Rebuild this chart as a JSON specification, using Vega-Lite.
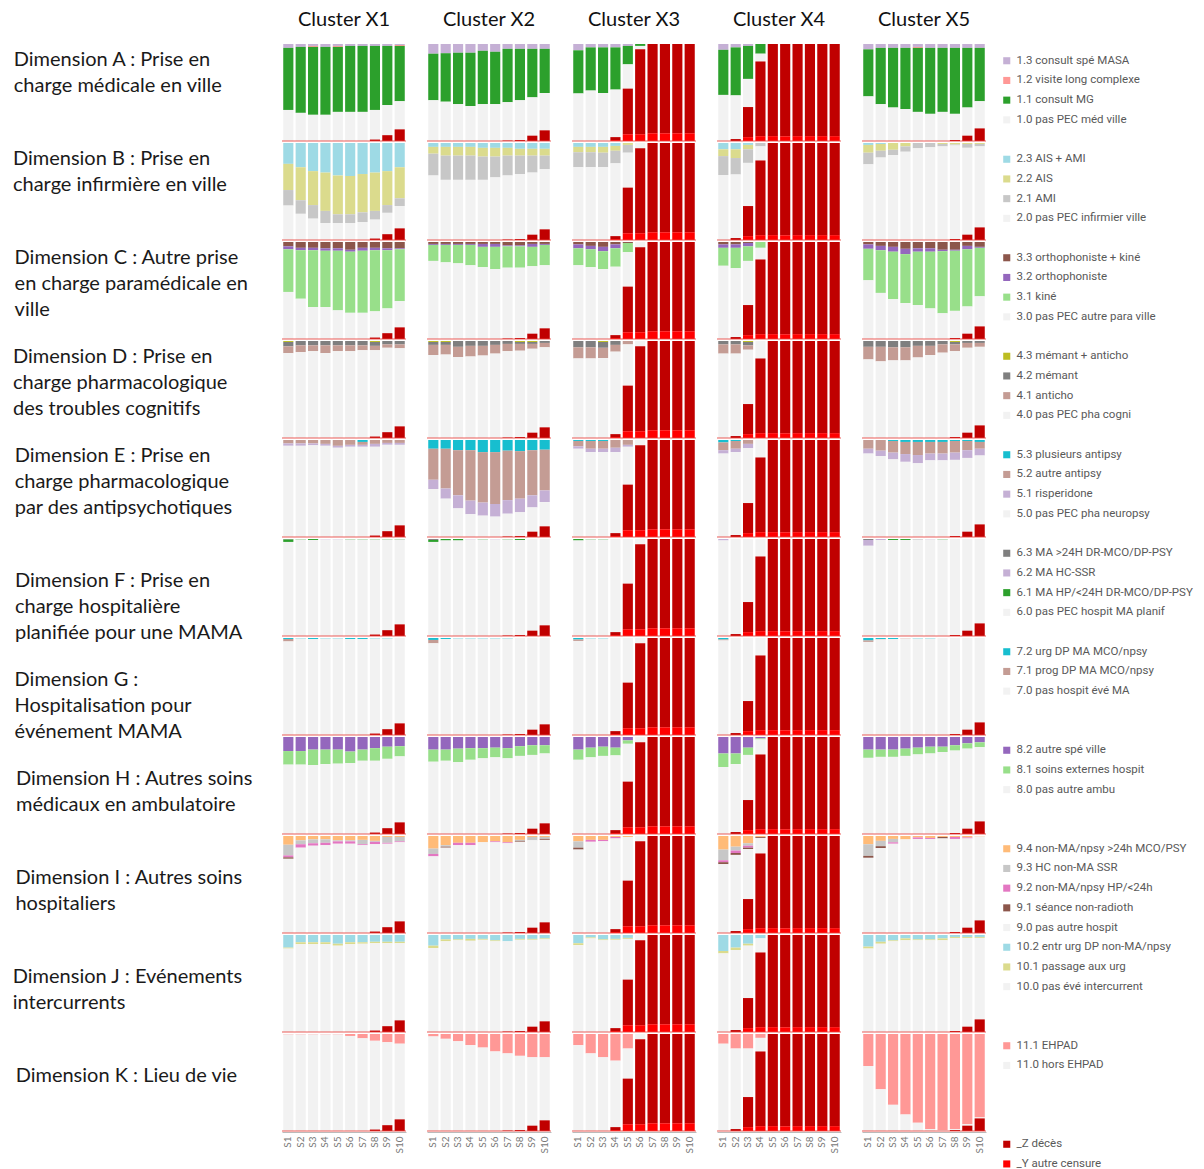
{
"$schema": "https://vega.github.io/schema/vega-lite/v6.json",
"padding": {"left": 12, "top": 10, "right": 4, "bottom": 2},
"background": "white",
"datasets": {
"sv": [
{"k":"1-1","c":"Cluster X1","s":"S1","Z":0,"Y":0},{"k":"1-2","c":"Cluster X1","s":"S2","Z":0,"Y":0},{"k":"1-3","c":"Cluster X1","s":"S3","Z":0,"Y":0},{"k":"1-4","c":"Cluster X1","s":"S4","Z":0,"Y":0},{"k":"1-5","c":"Cluster X1","s":"S5","Z":0,"Y":0},{"k":"1-6","c":"Cluster X1","s":"S6","Z":0,"Y":0},{"k":"1-7","c":"Cluster X1","s":"S7","Z":0,"Y":0},{"k":"1-8","c":"Cluster X1","s":"S8","Z":1.5,"Y":0},{"k":"1-9","c":"Cluster X1","s":"S9","Z":6,"Y":0},{"k":"1-10","c":"Cluster X1","s":"S10","Z":12,"Y":0},
{"k":"2-1","c":"Cluster X2","s":"S1","Z":0,"Y":0},{"k":"2-2","c":"Cluster X2","s":"S2","Z":0,"Y":0},{"k":"2-3","c":"Cluster X2","s":"S3","Z":0,"Y":0},{"k":"2-4","c":"Cluster X2","s":"S4","Z":0,"Y":0},{"k":"2-5","c":"Cluster X2","s":"S5","Z":0,"Y":0},{"k":"2-6","c":"Cluster X2","s":"S6","Z":0,"Y":0},{"k":"2-7","c":"Cluster X2","s":"S7","Z":0.5,"Y":0},{"k":"2-8","c":"Cluster X2","s":"S8","Z":1,"Y":0},{"k":"2-9","c":"Cluster X2","s":"S9","Z":5.5,"Y":0},{"k":"2-10","c":"Cluster X2","s":"S10","Z":11,"Y":0},
{"k":"3-1","c":"Cluster X3","s":"S1","Z":0,"Y":0},{"k":"3-2","c":"Cluster X3","s":"S2","Z":0,"Y":0},{"k":"3-3","c":"Cluster X3","s":"S3","Z":0,"Y":0},{"k":"3-4","c":"Cluster X3","s":"S4","Z":3,"Y":1},{"k":"3-5","c":"Cluster X3","s":"S5","Z":47,"Y":7},{"k":"3-6","c":"Cluster X3","s":"S6","Z":87.5,"Y":7},{"k":"3-7","c":"Cluster X3","s":"S7","Z":92,"Y":8},{"k":"3-8","c":"Cluster X3","s":"S8","Z":92,"Y":8},{"k":"3-9","c":"Cluster X3","s":"S9","Z":92,"Y":8},{"k":"3-10","c":"Cluster X3","s":"S10","Z":92,"Y":8},
{"k":"4-1","c":"Cluster X4","s":"S1","Z":0,"Y":0},{"k":"4-2","c":"Cluster X4","s":"S2","Z":2,"Y":0},{"k":"4-3","c":"Cluster X4","s":"S3","Z":31,"Y":4},{"k":"4-4","c":"Cluster X4","s":"S4","Z":77,"Y":5},{"k":"4-5","c":"Cluster X4","s":"S5","Z":95,"Y":5},{"k":"4-6","c":"Cluster X4","s":"S6","Z":95,"Y":5},{"k":"4-7","c":"Cluster X4","s":"S7","Z":95,"Y":5},{"k":"4-8","c":"Cluster X4","s":"S8","Z":95,"Y":5},{"k":"4-9","c":"Cluster X4","s":"S9","Z":95,"Y":5},{"k":"4-10","c":"Cluster X4","s":"S10","Z":95,"Y":5},
{"k":"5-1","c":"Cluster X5","s":"S1","Z":0,"Y":0},{"k":"5-2","c":"Cluster X5","s":"S2","Z":0,"Y":0},{"k":"5-3","c":"Cluster X5","s":"S3","Z":0,"Y":0},{"k":"5-4","c":"Cluster X5","s":"S4","Z":0,"Y":0},{"k":"5-5","c":"Cluster X5","s":"S5","Z":0,"Y":0},{"k":"5-6","c":"Cluster X5","s":"S6","Z":0,"Y":0},{"k":"5-7","c":"Cluster X5","s":"S7","Z":0,"Y":0},{"k":"5-8","c":"Cluster X5","s":"S8","Z":1,"Y":0},{"k":"5-9","c":"Cluster X5","s":"S9","Z":5.5,"Y":0},{"k":"5-10","c":"Cluster X5","s":"S10","Z":13,"Y":0}
],
"cats": [
{"ck":"Ap3","l":"1.3 consult spé MASA"},{"ck":"Ap2","l":"1.2 visite long complexe"},{"ck":"Ap1","l":"1.1 consult MG"},{"ck":"Ap0","l":"1.0 pas PEC méd ville"},
{"ck":"Bp3","l":"2.3 AIS + AMI"},{"ck":"Bp2","l":"2.2 AIS"},{"ck":"Bp1","l":"2.1 AMI"},{"ck":"Bp0","l":"2.0 pas PEC infirmier ville"},
{"ck":"Cp3","l":"3.3 orthophoniste + kiné"},{"ck":"Cp2","l":"3.2 orthophoniste"},{"ck":"Cp1","l":"3.1 kiné"},{"ck":"Cp0","l":"3.0 pas PEC autre para ville"},
{"ck":"Dp3","l":"4.3 mémant + anticho"},{"ck":"Dp2","l":"4.2 mémant"},{"ck":"Dp1","l":"4.1 anticho"},{"ck":"Dp0","l":"4.0 pas PEC pha cogni"},
{"ck":"Ep3","l":"5.3 plusieurs antipsy"},{"ck":"Ep2","l":"5.2 autre antipsy"},{"ck":"Ep1","l":"5.1 risperidone"},{"ck":"Ep0","l":"5.0 pas PEC pha neuropsy"},
{"ck":"Fp3","l":"6.3 MA >24H DR-MCO/DP-PSY"},{"ck":"Fp2","l":"6.2 MA HC-SSR"},{"ck":"Fp1","l":"6.1 MA HP/<24H DR-MCO/DP-PSY"},{"ck":"Fp0","l":"6.0 pas PEC hospit MA planif"},
{"ck":"Gp2","l":"7.2 urg DP MA MCO/npsy"},{"ck":"Gp1","l":"7.1 prog DP MA MCO/npsy"},{"ck":"Gp0","l":"7.0 pas hospit évé MA"},
{"ck":"Hp2","l":"8.2 autre spé ville"},{"ck":"Hp1","l":"8.1 soins externes hospit"},{"ck":"Hp0","l":"8.0 pas autre ambu"},
{"ck":"Ip4","l":"9.4 non-MA/npsy >24h MCO/PSY"},{"ck":"Ip3","l":"9.3 HC non-MA SSR"},{"ck":"Ip2","l":"9.2 non-MA/npsy HP/<24h"},{"ck":"Ip1","l":"9.1 séance non-radioth"},{"ck":"Ip0","l":"9.0 pas autre hospit"},
{"ck":"Jp2","l":"10.2 entr urg DP non-MA/npsy"},{"ck":"Jp1","l":"10.1 passage aux urg"},{"ck":"Jp0","l":"10.0 pas évé intercurrent"},
{"ck":"Kp1","l":"11.1 EHPAD"},{"ck":"Kp0","l":"11.0 hors EHPAD"},
{"ck":"Z","l":"_Z décès"},{"ck":"Y","l":"_Y autre censure"}
],
"bars": [
{"d":"A","k":"1-1","p3":4,"p1":64,"p0":32},{"d":"A","k":"1-2","p3":3,"p1":68,"p0":29},{"d":"A","k":"1-3","p3":2,"p2":1,"p1":70,"p0":27},{"d":"A","k":"1-4","p3":3,"p1":70,"p0":27},{"d":"A","k":"1-5","p3":2,"p2":1,"p1":67,"p0":30},{"d":"A","k":"1-6","p3":2,"p1":68,"p0":30},{"d":"A","k":"1-7","p3":2,"p1":68,"p0":30},{"d":"A","k":"1-8","p3":2,"p1":66,"p0":30.5},{"d":"A","k":"1-9","p3":2,"p1":61,"p0":31},{"d":"A","k":"1-10","p3":1,"p2":1,"p1":57,"p0":29},
{"d":"A","k":"2-1","p3":10,"p1":48,"p0":42},{"d":"A","k":"2-2","p3":9.5,"p1":50,"p0":40.5},{"d":"A","k":"2-3","p3":9,"p1":53,"p0":38},{"d":"A","k":"2-4","p3":9,"p1":55,"p0":36},{"d":"A","k":"2-5","p3":7,"p1":55,"p0":38},{"d":"A","k":"2-6","p3":8,"p1":54,"p0":38},{"d":"A","k":"2-7","p3":5,"p1":55,"p0":39.5},{"d":"A","k":"2-8","p3":5,"p1":53,"p0":41},{"d":"A","k":"2-9","p3":5,"p1":50,"p0":39.5},{"d":"A","k":"2-10","p3":5,"p1":45.5,"p0":38.5},
{"d":"A","k":"3-1","p3":6.5,"p1":44.5,"p0":49},{"d":"A","k":"3-2","p3":3.5,"p1":44.5,"p0":52},{"d":"A","k":"3-3","p3":3.5,"p1":47,"p0":49.5},{"d":"A","k":"3-4","p3":3.5,"p1":43.5,"p0":49},{"d":"A","k":"3-5","p3":2,"p1":19,"p0":25},{"d":"A","k":"3-6","p1":2,"p0":3.5},{"d":"A","k":"3-7"},{"d":"A","k":"3-8"},{"d":"A","k":"3-9"},{"d":"A","k":"3-10"},
{"d":"A","k":"4-1","p3":6,"p1":46.5,"p0":47.5},{"d":"A","k":"4-2","p3":3.5,"p1":49.5,"p0":45},{"d":"A","k":"4-3","p3":2,"p1":34,"p0":29},{"d":"A","k":"4-4","p1":10,"p0":8},{"d":"A","k":"4-5"},{"d":"A","k":"4-6"},{"d":"A","k":"4-7"},{"d":"A","k":"4-8"},{"d":"A","k":"4-9"},{"d":"A","k":"4-10"},
{"d":"A","k":"5-1","p3":5.5,"p1":48.5,"p0":46},{"d":"A","k":"5-2","p3":4,"p1":58,"p0":38},{"d":"A","k":"5-3","p3":4,"p1":61.5,"p0":34.5},{"d":"A","k":"5-4","p3":4,"p1":63,"p0":33},{"d":"A","k":"5-5","p3":3,"p2":1,"p1":66,"p0":30},{"d":"A","k":"5-6","p3":4,"p1":68,"p0":28},{"d":"A","k":"5-7","p3":4,"p1":66,"p0":30},{"d":"A","k":"5-8","p3":4,"p1":68,"p0":27},{"d":"A","k":"5-9","p3":4,"p1":61.5,"p0":29},{"d":"A","k":"5-10","p3":4,"p1":55,"p0":28},

{"d":"B","k":"1-1","p3":21.5,"p2":27,"p1":16,"p0":35.5},{"d":"B","k":"1-2","p3":25,"p2":34,"p1":14,"p0":27},{"d":"B","k":"1-3","p3":29,"p2":35,"p1":14,"p0":22},{"d":"B","k":"1-4","p3":30.5,"p2":39.5,"p1":12.5,"p0":17.5},{"d":"B","k":"1-5","p3":33.5,"p2":40,"p1":9,"p0":17.5},{"d":"B","k":"1-6","p3":34,"p2":39.5,"p1":9,"p0":17.5},{"d":"B","k":"1-7","p3":32,"p2":39.5,"p1":10,"p0":18.5},{"d":"B","k":"1-8","p3":30.5,"p2":39.5,"p1":9,"p0":19.5},{"d":"B","k":"1-9","p3":29,"p2":35,"p1":8,"p0":22},{"d":"B","k":"1-10","p3":25,"p2":32,"p1":8,"p0":23},
{"d":"B","k":"2-1","p3":4,"p2":7,"p1":22.5,"p0":66.5},{"d":"B","k":"2-2","p3":4,"p2":9,"p1":25,"p0":62},{"d":"B","k":"2-3","p3":4,"p2":9,"p1":25,"p0":62},{"d":"B","k":"2-4","p3":4,"p2":9,"p1":25,"p0":62},{"d":"B","k":"2-5","p3":5,"p2":9,"p1":24,"p0":62},{"d":"B","k":"2-6","p3":5,"p2":9,"p1":21.5,"p0":64.5},{"d":"B","k":"2-7","p3":5,"p2":8,"p1":20.5,"p0":66},{"d":"B","k":"2-8","p3":6,"p2":7,"p1":19,"p0":67},{"d":"B","k":"2-9","p3":6,"p2":7,"p1":17.5,"p0":64},{"d":"B","k":"2-10","p3":6,"p2":7,"p1":14,"p0":62},
{"d":"B","k":"3-1","p3":4,"p2":5.5,"p1":15.5,"p0":75},{"d":"B","k":"3-2","p3":4,"p2":5.5,"p1":15.5,"p0":75},{"d":"B","k":"3-3","p3":4,"p2":6,"p1":15,"p0":75},{"d":"B","k":"3-4","p3":3,"p2":5,"p1":13,"p0":75},{"d":"B","k":"3-5","p2":2,"p1":8,"p0":36},{"d":"B","k":"3-6","p0":5.5},{"d":"B","k":"3-7"},{"d":"B","k":"3-8"},{"d":"B","k":"3-9"},{"d":"B","k":"3-10"},
{"d":"B","k":"4-1","p3":6.5,"p2":7,"p1":19.5,"p0":67},{"d":"B","k":"4-2","p3":6.5,"p2":9,"p1":17,"p0":65.5},{"d":"B","k":"4-3","p3":2,"p2":4.5,"p1":14,"p0":44.5},{"d":"B","k":"4-4","p1":3.5,"p0":14.5},{"d":"B","k":"4-5"},{"d":"B","k":"4-6"},{"d":"B","k":"4-7"},{"d":"B","k":"4-8"},{"d":"B","k":"4-9"},{"d":"B","k":"4-10"},
{"d":"B","k":"5-1","p3":2,"p2":8,"p1":12,"p0":78},{"d":"B","k":"5-2","p3":1,"p2":7,"p1":7,"p0":85},{"d":"B","k":"5-3","p2":7,"p1":5.5,"p0":87.5},{"d":"B","k":"5-4","p2":3.5,"p1":5.5,"p0":91},{"d":"B","k":"5-5","p1":5.5,"p0":94.5},{"d":"B","k":"5-6","p1":4.5,"p0":95.5},{"d":"B","k":"5-7","p2":1,"p1":2.5,"p0":96.5},{"d":"B","k":"5-8","p2":1.5,"p1":1,"p0":96.5},{"d":"B","k":"5-9","p2":1,"p1":4,"p0":89.5},{"d":"B","k":"5-10","p2":1,"p1":2.5,"p0":83.5},

{"d":"C","k":"1-1","p3":4.5,"p2":3,"p1":44,"p0":48.5},{"d":"C","k":"1-2","p3":6,"p2":2.5,"p1":50,"p0":41.5},{"d":"C","k":"1-3","p3":6,"p2":2.5,"p1":58.5,"p0":33},{"d":"C","k":"1-4","p3":6.5,"p2":2.5,"p1":58,"p0":33},{"d":"C","k":"1-5","p3":6.5,"p2":2.5,"p1":61.5,"p0":29.5},{"d":"C","k":"1-6","p3":8,"p2":2,"p1":63,"p0":27},{"d":"C","k":"1-7","p3":6,"p2":3,"p1":64,"p0":27},{"d":"C","k":"1-8","p3":6,"p2":2.5,"p1":63,"p0":27},{"d":"C","k":"1-9","p3":6.5,"p2":2,"p1":60,"p0":25.5},{"d":"C","k":"1-10","p3":6.5,"p2":1,"p1":53.5,"p0":27},
{"d":"C","k":"2-1","p3":2,"p2":1,"p1":16.5,"p0":80.5},{"d":"C","k":"2-2","p3":2,"p2":1,"p1":18,"p0":79},{"d":"C","k":"2-3","p3":2,"p2":1,"p1":19,"p0":78},{"d":"C","k":"2-4","p3":2,"p2":1,"p1":21,"p0":76},{"d":"C","k":"2-5","p3":2,"p2":3,"p1":21,"p0":74},{"d":"C","k":"2-6","p3":2,"p2":3,"p1":23,"p0":72},{"d":"C","k":"2-7","p3":3.5,"p2":1,"p1":22,"p0":73},{"d":"C","k":"2-8","p3":3.5,"p2":1,"p1":22,"p0":72.5},{"d":"C","k":"2-9","p3":2,"p2":3,"p1":20,"p0":69.5},{"d":"C","k":"2-10","p3":2,"p2":1,"p1":21,"p0":65},
{"d":"C","k":"3-1","p3":2.5,"p2":4,"p1":17.5,"p0":76},{"d":"C","k":"3-2","p3":4,"p2":3.5,"p1":18.5,"p0":74},{"d":"C","k":"3-3","p3":5,"p2":4.5,"p1":18.5,"p0":72},{"d":"C","k":"3-4","p3":2.5,"p2":4,"p1":19,"p0":70.5},{"d":"C","k":"3-5","p3":1,"p1":9.5,"p0":35.5},{"d":"C","k":"3-6","p0":5.5},{"d":"C","k":"3-7"},{"d":"C","k":"3-8"},{"d":"C","k":"3-9"},{"d":"C","k":"3-10"},
{"d":"C","k":"4-1","p3":2.5,"p2":3.5,"p1":18.5,"p0":75.5},{"d":"C","k":"4-2","p3":2.5,"p2":3.5,"p1":21,"p0":71},{"d":"C","k":"4-3","p3":1,"p2":3.5,"p1":15,"p0":45.5},{"d":"C","k":"4-4","p1":6,"p0":12},{"d":"C","k":"4-5"},{"d":"C","k":"4-6"},{"d":"C","k":"4-7"},{"d":"C","k":"4-8"},{"d":"C","k":"4-9"},{"d":"C","k":"4-10"},
{"d":"C","k":"5-1","p3":2.5,"p2":4.5,"p1":32.5,"p0":60.5},{"d":"C","k":"5-2","p3":4,"p2":4.5,"p1":44,"p0":47.5},{"d":"C","k":"5-3","p3":5,"p2":5,"p1":49,"p0":41},{"d":"C","k":"5-4","p3":7,"p2":5.5,"p1":50.5,"p0":37},{"d":"C","k":"5-5","p3":6.5,"p2":3.5,"p1":55,"p0":35},{"d":"C","k":"5-6","p3":6.5,"p2":3.5,"p1":58.5,"p0":31.5},{"d":"C","k":"5-7","p3":8,"p2":1.5,"p1":64,"p0":26.5},{"d":"C","k":"5-8","p3":8,"p2":1,"p1":62,"p0":28},{"d":"C","k":"5-9","p3":4,"p2":3.5,"p1":59,"p0":28},{"d":"C","k":"5-10","p3":5,"p2":1,"p1":50,"p0":31},

{"d":"D","k":"1-1","p3":1,"p2":4.5,"p1":7,"p0":87.5},{"d":"D","k":"1-2","p2":4.5,"p1":7,"p0":88.5},{"d":"D","k":"1-3","p2":4.5,"p1":6,"p0":89.5},{"d":"D","k":"1-4","p2":4.5,"p1":8,"p0":87.5},{"d":"D","k":"1-5","p2":4.5,"p1":6,"p0":89.5},{"d":"D","k":"1-6","p2":4.5,"p1":6,"p0":89.5},{"d":"D","k":"1-7","p2":4.5,"p1":5,"p0":90.5},{"d":"D","k":"1-8","p3":1,"p2":4,"p1":4.5,"p0":89},{"d":"D","k":"1-9","p2":3.5,"p1":3.5,"p0":87},{"d":"D","k":"1-10","p2":3.5,"p1":4,"p0":80.5},
{"d":"D","k":"2-1","p3":1,"p2":3,"p1":10.5,"p0":85.5},{"d":"D","k":"2-2","p3":1,"p2":3,"p1":10,"p0":86},{"d":"D","k":"2-3","p2":6,"p1":10.5,"p0":83.5},{"d":"D","k":"2-4","p2":5,"p1":11,"p0":84},{"d":"D","k":"2-5","p2":5,"p1":10,"p0":85},{"d":"D","k":"2-6","p2":4,"p1":9,"p0":87},{"d":"D","k":"2-7","p2":3,"p1":7.5,"p0":89},{"d":"D","k":"2-8","p3":1,"p2":2,"p1":7,"p0":89},{"d":"D","k":"2-9","p3":1,"p2":2,"p1":5,"p0":86.5},{"d":"D","k":"2-10","p2":2,"p1":4.5,"p0":82.5},
{"d":"D","k":"3-1","p2":6.5,"p1":11.5,"p0":82},{"d":"D","k":"3-2","p2":6.5,"p1":11.5,"p0":82},{"d":"D","k":"3-3","p3":1,"p2":6,"p1":10.5,"p0":82.5},{"d":"D","k":"3-4","p2":4,"p1":7,"p0":85},{"d":"D","k":"3-5","p1":3.5,"p0":42.5},{"d":"D","k":"3-6","p0":5.5},{"d":"D","k":"3-7"},{"d":"D","k":"3-8"},{"d":"D","k":"3-9"},{"d":"D","k":"3-10"},
{"d":"D","k":"4-1","p2":3.5,"p1":9.5,"p0":87},{"d":"D","k":"4-2","p2":3.5,"p1":9.5,"p0":85},{"d":"D","k":"4-3","p3":1,"p2":3.5,"p1":4.5,"p0":56},{"d":"D","k":"4-4","p0":18},{"d":"D","k":"4-5"},{"d":"D","k":"4-6"},{"d":"D","k":"4-7"},{"d":"D","k":"4-8"},{"d":"D","k":"4-9"},{"d":"D","k":"4-10"},
{"d":"D","k":"5-1","p2":6,"p1":13,"p0":81},{"d":"D","k":"5-2","p2":6,"p1":15,"p0":79},{"d":"D","k":"5-3","p2":6.5,"p1":13.5,"p0":80},{"d":"D","k":"5-4","p2":6.5,"p1":13.5,"p0":80},{"d":"D","k":"5-5","p2":5,"p1":12,"p0":83},{"d":"D","k":"5-6","p2":5,"p1":9.5,"p0":85.5},{"d":"D","k":"5-7","p2":3.5,"p1":8.5,"p0":88},{"d":"D","k":"5-8","p3":1,"p2":2.5,"p1":7,"p0":88.5},{"d":"D","k":"5-9","p2":2,"p1":5,"p0":87.5},{"d":"D","k":"5-10","p2":2,"p1":4,"p0":81},

{"d":"E","k":"1-1","p2":3.5,"p1":2.5,"p0":94},{"d":"E","k":"1-2","p2":3.5,"p1":2.5,"p0":94},{"d":"E","k":"1-3","p2":3.5,"p1":2,"p0":94.5},{"d":"E","k":"1-4","p2":4,"p1":2,"p0":94},{"d":"E","k":"1-5","p2":6,"p1":2,"p0":92},{"d":"E","k":"1-6","p2":5,"p1":2,"p0":93},{"d":"E","k":"1-7","p3":2,"p2":3,"p1":2,"p0":93},{"d":"E","k":"1-8","p2":4,"p1":3,"p0":91.5},{"d":"E","k":"1-9","p2":3,"p1":2,"p0":89},{"d":"E","k":"1-10","p2":3,"p1":2,"p0":83},
{"d":"E","k":"2-1","p3":9,"p2":32,"p1":9.5,"p0":49.5},{"d":"E","k":"2-2","p3":9,"p2":41,"p1":10.5,"p0":39.5},{"d":"E","k":"2-3","p3":10.5,"p2":46.5,"p1":13.5,"p0":29.5},{"d":"E","k":"2-4","p3":10.5,"p2":52,"p1":14,"p0":23.5},{"d":"E","k":"2-5","p3":12.5,"p2":52,"p1":13.5,"p0":22},{"d":"E","k":"2-6","p3":12.5,"p2":53.5,"p1":13,"p0":21},{"d":"E","k":"2-7","p3":11,"p2":51,"p1":14,"p0":23.5},{"d":"E","k":"2-8","p3":11.5,"p2":49,"p1":14,"p0":24.5},{"d":"E","k":"2-9","p3":10.5,"p2":46.5,"p1":12.5,"p0":25},{"d":"E","k":"2-10","p3":10,"p2":42,"p1":12,"p0":25},
{"d":"E","k":"3-1","p3":1,"p2":5.5,"p1":2.5,"p0":91},{"d":"E","k":"3-2","p3":1,"p2":8,"p1":3.5,"p0":87.5},{"d":"E","k":"3-3","p3":1,"p2":8,"p1":3.5,"p0":87.5},{"d":"E","k":"3-4","p2":8,"p1":4.5,"p0":83.5},{"d":"E","k":"3-5","p2":5,"p1":2,"p0":39},{"d":"E","k":"3-6","p0":5.5},{"d":"E","k":"3-7"},{"d":"E","k":"3-8"},{"d":"E","k":"3-9"},{"d":"E","k":"3-10"},
{"d":"E","k":"4-1","p3":2.5,"p2":8,"p1":3.5,"p0":86},{"d":"E","k":"4-2","p3":1,"p2":8,"p1":3.5,"p0":85.5},{"d":"E","k":"4-3","p2":4,"p1":4.5,"p0":56.5},{"d":"E","k":"4-4","p0":18},{"d":"E","k":"4-5"},{"d":"E","k":"4-6"},{"d":"E","k":"4-7"},{"d":"E","k":"4-8"},{"d":"E","k":"4-9"},{"d":"E","k":"4-10"},
{"d":"E","k":"5-1","p2":9,"p1":5,"p0":86},{"d":"E","k":"5-2","p2":11,"p1":5.5,"p0":83.5},{"d":"E","k":"5-3","p3":1,"p2":12,"p1":7,"p0":80},{"d":"E","k":"5-4","p3":2,"p2":12.5,"p1":8,"p0":77.5},{"d":"E","k":"5-5","p3":2,"p2":13.5,"p1":8.5,"p0":76},{"d":"E","k":"5-6","p3":2,"p2":12,"p1":7,"p0":79},{"d":"E","k":"5-7","p3":2,"p2":12,"p1":7,"p0":79},{"d":"E","k":"5-8","p3":1,"p2":12,"p1":7.5,"p0":78.5},{"d":"E","k":"5-9","p3":1,"p2":9.5,"p1":8,"p0":76},{"d":"E","k":"5-10","p3":2,"p2":7,"p1":7,"p0":71},

{"d":"F","k":"1-1","p3":0.5,"p1":2.5,"p0":97},{"d":"F","k":"1-2","p1":0.5,"p0":99.5},{"d":"F","k":"1-3","p1":1,"p0":99},{"d":"F","k":"1-4","p2":0.5,"p0":99.5},{"d":"F","k":"1-5","p2":0.5,"p0":99.5},{"d":"F","k":"1-6","p1":0.5,"p0":99.5},{"d":"F","k":"1-7","p1":0.5,"p0":99.5},{"d":"F","k":"1-8","p1":0.5,"p0":98},{"d":"F","k":"1-9","p1":0.5,"p0":93.5},{"d":"F","k":"1-10","p1":0.5,"p0":87.5},
{"d":"F","k":"2-1","p3":1,"p1":2,"p0":97},{"d":"F","k":"2-2","p1":1.5,"p0":98.5},{"d":"F","k":"2-3","p1":1.5,"p0":98.5},{"d":"F","k":"2-4","p2":0.5,"p0":99.5},{"d":"F","k":"2-5","p1":0.5,"p0":99.5},{"d":"F","k":"2-6","p2":0.5,"p0":99.5},{"d":"F","k":"2-7","p1":0.5,"p0":99},{"d":"F","k":"2-8","p1":1,"p0":98},{"d":"F","k":"2-9","p0":94.5},{"d":"F","k":"2-10","p0":89},
{"d":"F","k":"3-1","p1":1.5,"p0":98.5},{"d":"F","k":"3-2","p1":0.5,"p0":99.5},{"d":"F","k":"3-3","p1":0.5,"p0":99.5},{"d":"F","k":"3-4","p0":96},{"d":"F","k":"3-5","p0":46},{"d":"F","k":"3-6","p0":5.5},{"d":"F","k":"3-7"},{"d":"F","k":"3-8"},{"d":"F","k":"3-9"},{"d":"F","k":"3-10"},
{"d":"F","k":"4-1","p2":1.5,"p0":98.5},{"d":"F","k":"4-2","p0":98},{"d":"F","k":"4-3","p0":65},{"d":"F","k":"4-4","p0":18},{"d":"F","k":"4-5"},{"d":"F","k":"4-6"},{"d":"F","k":"4-7"},{"d":"F","k":"4-8"},{"d":"F","k":"4-9"},{"d":"F","k":"4-10"},
{"d":"F","k":"5-1","p3":1,"p2":6,"p0":93},{"d":"F","k":"5-2","p2":1,"p0":99},{"d":"F","k":"5-3","p1":1,"p0":99},{"d":"F","k":"5-4","p1":1,"p0":99},{"d":"F","k":"5-5","p3":0.5,"p0":99.5},{"d":"F","k":"5-6","p2":0.5,"p0":99.5},{"d":"F","k":"5-7","p1":0.5,"p0":99.5},{"d":"F","k":"5-8","p0":99},{"d":"F","k":"5-9","p0":94.5},{"d":"F","k":"5-10","p0":87},

{"d":"G","k":"1-1","p2":1,"p1":2.5,"p0":96.5},{"d":"G","k":"1-2","p2":0.5,"p0":99.5},{"d":"G","k":"1-3","p2":1,"p0":99},{"d":"G","k":"1-4","p2":0.5,"p0":99.5},{"d":"G","k":"1-5","p2":0.5,"p0":99.5},{"d":"G","k":"1-6","p2":1,"p0":99},{"d":"G","k":"1-7","p2":1,"p0":99},{"d":"G","k":"1-8","p2":0.5,"p0":98},{"d":"G","k":"1-9","p2":0.5,"p0":93.5},{"d":"G","k":"1-10","p0":88},
{"d":"G","k":"2-1","p2":2,"p1":3.5,"p0":94.5},{"d":"G","k":"2-2","p2":1,"p0":99},{"d":"G","k":"2-3","p2":0.5,"p0":99.5},{"d":"G","k":"2-4","p2":0.5,"p0":99.5},{"d":"G","k":"2-5","p2":0.5,"p0":99.5},{"d":"G","k":"2-6","p2":0.5,"p0":99.5},{"d":"G","k":"2-7","p2":0.5,"p0":99},{"d":"G","k":"2-8","p0":99},{"d":"G","k":"2-9","p0":94.5},{"d":"G","k":"2-10","p0":89},
{"d":"G","k":"3-1","p2":1.5,"p1":1.5,"p0":97},{"d":"G","k":"3-2","p2":0.5,"p0":99.5},{"d":"G","k":"3-3","p2":0.5,"p0":99.5},{"d":"G","k":"3-4","p0":96},{"d":"G","k":"3-5","p0":46},{"d":"G","k":"3-6","p0":5.5},{"d":"G","k":"3-7"},{"d":"G","k":"3-8"},{"d":"G","k":"3-9"},{"d":"G","k":"3-10"},
{"d":"G","k":"4-1","p2":1.5,"p1":1,"p0":97.5},{"d":"G","k":"4-2","p0":98},{"d":"G","k":"4-3","p0":65},{"d":"G","k":"4-4","p0":18},{"d":"G","k":"4-5"},{"d":"G","k":"4-6"},{"d":"G","k":"4-7"},{"d":"G","k":"4-8"},{"d":"G","k":"4-9"},{"d":"G","k":"4-10"},
{"d":"G","k":"5-1","p2":2.5,"p1":1.5,"p0":96},{"d":"G","k":"5-2","p2":1,"p1":0.5,"p0":98.5},{"d":"G","k":"5-3","p2":1,"p0":99},{"d":"G","k":"5-4","p1":0.5,"p0":99.5},{"d":"G","k":"5-5","p2":0.5,"p0":99.5},{"d":"G","k":"5-6","p2":0.5,"p0":99.5},{"d":"G","k":"5-7","p0":100},{"d":"G","k":"5-8","p0":99},{"d":"G","k":"5-9","p0":94.5},{"d":"G","k":"5-10","p0":87},

{"d":"H","k":"1-1","p2":14.5,"p1":14,"p0":71.5},{"d":"H","k":"1-2","p2":14.5,"p1":14,"p0":71.5},{"d":"H","k":"1-3","p2":13,"p1":16,"p0":71},{"d":"H","k":"1-4","p2":13,"p1":15,"p0":72},{"d":"H","k":"1-5","p2":13,"p1":14.5,"p0":72.5},{"d":"H","k":"1-6","p2":15,"p1":12,"p0":73},{"d":"H","k":"1-7","p2":13,"p1":11.5,"p0":75.5},{"d":"H","k":"1-8","p2":11.5,"p1":13,"p0":74},{"d":"H","k":"1-9","p2":10,"p1":12.5,"p0":71.5},{"d":"H","k":"1-10","p2":9.5,"p1":10.5,"p0":68},
{"d":"H","k":"2-1","p2":13,"p1":12.5,"p0":74.5},{"d":"H","k":"2-2","p2":13,"p1":11.5,"p0":75.5},{"d":"H","k":"2-3","p2":12,"p1":14,"p0":74},{"d":"H","k":"2-4","p2":11.5,"p1":12,"p0":76.5},{"d":"H","k":"2-5","p2":11.5,"p1":10.5,"p0":78},{"d":"H","k":"2-6","p2":11,"p1":10,"p0":79},{"d":"H","k":"2-7","p2":11.5,"p1":10.5,"p0":77.5},{"d":"H","k":"2-8","p2":9.5,"p1":10,"p0":79.5},{"d":"H","k":"2-9","p2":8.5,"p1":10,"p0":76},{"d":"H","k":"2-10","p2":8.5,"p1":8.5,"p0":72},
{"d":"H","k":"3-1","p2":13,"p1":10.5,"p0":76.5},{"d":"H","k":"3-2","p2":11,"p1":10,"p0":79},{"d":"H","k":"3-3","p2":10,"p1":9.5,"p0":80.5},{"d":"H","k":"3-4","p2":11,"p1":8,"p0":77},{"d":"H","k":"3-5","p2":3.5,"p1":3.5,"p0":39},{"d":"H","k":"3-6","p0":5.5},{"d":"H","k":"3-7"},{"d":"H","k":"3-8"},{"d":"H","k":"3-9"},{"d":"H","k":"3-10"},
{"d":"H","k":"4-1","p2":17,"p1":14,"p0":69},{"d":"H","k":"4-2","p2":17,"p1":11,"p0":70},{"d":"H","k":"4-3","p2":11,"p1":7.5,"p0":46.5},{"d":"H","k":"4-4","p2":1.5,"p1":1,"p0":15.5},{"d":"H","k":"4-5"},{"d":"H","k":"4-6"},{"d":"H","k":"4-7"},{"d":"H","k":"4-8"},{"d":"H","k":"4-9"},{"d":"H","k":"4-10"},
{"d":"H","k":"5-1","p2":13,"p1":8.5,"p0":78.5},{"d":"H","k":"5-2","p2":13,"p1":7.5,"p0":79.5},{"d":"H","k":"5-3","p2":13,"p1":7.5,"p0":79.5},{"d":"H","k":"5-4","p2":12,"p1":7.5,"p0":80.5},{"d":"H","k":"5-5","p2":11,"p1":7,"p0":82},{"d":"H","k":"5-6","p2":10,"p1":7,"p0":83},{"d":"H","k":"5-7","p2":10,"p1":5.5,"p0":84.5},{"d":"H","k":"5-8","p2":8.5,"p1":5.5,"p0":85},{"d":"H","k":"5-9","p2":6.5,"p1":5.5,"p0":82.5},{"d":"H","k":"5-10","p2":5.5,"p1":5,"p0":76.5},

{"d":"I","k":"1-1","p4":9,"p3":11,"p2":2,"p1":1.5,"p0":76.5},{"d":"I","k":"1-2","p4":4.5,"p3":4,"p2":3.5,"p0":88},{"d":"I","k":"1-3","p4":3.5,"p3":4,"p2":2.5,"p0":90},{"d":"I","k":"1-4","p4":3.5,"p3":3.5,"p2":2.5,"p0":90.5},{"d":"I","k":"1-5","p4":4.5,"p3":1,"p2":2.5,"p0":92},{"d":"I","k":"1-6","p4":4.5,"p3":1,"p2":2.5,"p0":92},{"d":"I","k":"1-7","p4":4,"p3":4.5,"p2":1,"p0":90.5},{"d":"I","k":"1-8","p4":5,"p3":1,"p2":2.5,"p0":90},{"d":"I","k":"1-9","p4":1,"p3":6,"p2":1,"p0":86},{"d":"I","k":"1-10","p4":1,"p3":4.5,"p2":1,"p0":81.5},
{"d":"I","k":"2-1","p4":13,"p3":5.5,"p2":2.5,"p0":79},{"d":"I","k":"2-2","p4":9.5,"p3":1.5,"p1":1,"p0":88},{"d":"I","k":"2-3","p4":7,"p2":2.5,"p0":90.5},{"d":"I","k":"2-4","p4":7,"p2":2.5,"p0":90.5},{"d":"I","k":"2-5","p4":6.5,"p0":93.5},{"d":"I","k":"2-6","p4":5.5,"p2":1,"p0":93.5},{"d":"I","k":"2-7","p4":6.5,"p2":1,"p0":92},{"d":"I","k":"2-8","p4":4,"p3":1,"p1":1,"p0":93},{"d":"I","k":"2-9","p4":1,"p3":3.5,"p0":90},{"d":"I","k":"2-10","p4":1,"p3":2,"p1":1,"p0":85},
{"d":"I","k":"3-1","p4":5.5,"p3":6.5,"p1":2,"p0":86},{"d":"I","k":"3-2","p4":4,"p2":2,"p0":94},{"d":"I","k":"3-3","p4":4,"p2":1.5,"p0":94.5},{"d":"I","k":"3-4","p4":1,"p2":1.5,"p0":93.5},{"d":"I","k":"3-5","p4":1,"p0":45},{"d":"I","k":"3-6","p0":5.5},{"d":"I","k":"3-7"},{"d":"I","k":"3-8"},{"d":"I","k":"3-9"},{"d":"I","k":"3-10"},
{"d":"I","k":"4-1","p4":14,"p3":11,"p2":2,"p1":2,"p0":71},{"d":"I","k":"4-2","p4":11,"p3":4,"p2":2.5,"p1":2,"p0":78.5},{"d":"I","k":"4-3","p4":7.5,"p3":2.5,"p2":2,"p1":1.5,"p0":51.5},{"d":"I","k":"4-4","p4":1,"p1":1,"p0":16},{"d":"I","k":"4-5"},{"d":"I","k":"4-6"},{"d":"I","k":"4-7"},{"d":"I","k":"4-8"},{"d":"I","k":"4-9"},{"d":"I","k":"4-10"},
{"d":"I","k":"5-1","p4":8.5,"p3":12,"p1":2,"p0":77.5},{"d":"I","k":"5-2","p4":5,"p3":5.5,"p1":2,"p0":87.5},{"d":"I","k":"5-3","p4":3,"p3":3.5,"p2":1.5,"p0":92},{"d":"I","k":"5-4","p4":3.5,"p0":96.5},{"d":"I","k":"5-5","p4":1.5,"p2":1.5,"p0":97},{"d":"I","k":"5-6","p4":2,"p2":1,"p0":97},{"d":"I","k":"5-7","p4":1,"p1":1.5,"p0":97.5},{"d":"I","k":"5-8","p4":1,"p2":2,"p0":96},{"d":"I","k":"5-9","p4":1.5,"p2":1,"p0":92},{"d":"I","k":"5-10","p4":0.5,"p0":86.5},

{"d":"J","k":"1-1","p2":13,"p1":1,"p0":86},{"d":"J","k":"1-2","p2":7.5,"p1":2,"p0":90.5},{"d":"J","k":"1-3","p2":7.5,"p1":2,"p0":90.5},{"d":"J","k":"1-4","p2":7.5,"p1":2,"p0":90.5},{"d":"J","k":"1-5","p2":9,"p1":2,"p0":89},{"d":"J","k":"1-6","p2":7.5,"p1":2,"p0":90.5},{"d":"J","k":"1-7","p2":7.5,"p1":1.5,"p0":91},{"d":"J","k":"1-8","p2":7,"p1":1.5,"p0":90},{"d":"J","k":"1-9","p2":7,"p1":1.5,"p0":85.5},{"d":"J","k":"1-10","p2":7,"p1":1.5,"p0":79.5},
{"d":"J","k":"2-1","p2":11,"p1":2.5,"p0":86.5},{"d":"J","k":"2-2","p2":4.5,"p1":2,"p0":93.5},{"d":"J","k":"2-3","p2":4.5,"p1":1,"p0":94.5},{"d":"J","k":"2-4","p2":4,"p1":2,"p0":94},{"d":"J","k":"2-5","p2":4,"p1":1,"p0":95},{"d":"J","k":"2-6","p2":5.5,"p1":1,"p0":93.5},{"d":"J","k":"2-7","p2":6.5,"p0":93},{"d":"J","k":"2-8","p2":4,"p1":1,"p0":94},{"d":"J","k":"2-9","p2":4,"p1":1,"p0":89.5},{"d":"J","k":"2-10","p2":3.5,"p1":1,"p0":84.5},
{"d":"J","k":"3-1","p2":8.5,"p1":2,"p0":89.5},{"d":"J","k":"3-2","p2":2.5,"p1":1,"p0":96.5},{"d":"J","k":"3-3","p2":4.5,"p1":1,"p0":94.5},{"d":"J","k":"3-4","p2":4,"p1":1,"p0":91},{"d":"J","k":"3-5","p2":3,"p1":1,"p0":42},{"d":"J","k":"3-6","p0":5.5},{"d":"J","k":"3-7"},{"d":"J","k":"3-8"},{"d":"J","k":"3-9"},{"d":"J","k":"3-10"},
{"d":"J","k":"4-1","p2":16.5,"p1":2.5,"p0":81},{"d":"J","k":"4-2","p2":13,"p1":2.5,"p0":82.5},{"d":"J","k":"4-3","p2":9,"p1":2,"p0":54},{"d":"J","k":"4-4","p2":3.5,"p0":14.5},{"d":"J","k":"4-5"},{"d":"J","k":"4-6"},{"d":"J","k":"4-7"},{"d":"J","k":"4-8"},{"d":"J","k":"4-9"},{"d":"J","k":"4-10"},
{"d":"J","k":"5-1","p2":12,"p1":2,"p0":86},{"d":"J","k":"5-2","p2":7,"p1":2,"p0":91},{"d":"J","k":"5-3","p2":5.5,"p1":1,"p0":93.5},{"d":"J","k":"5-4","p2":3.5,"p1":2,"p0":94.5},{"d":"J","k":"5-5","p2":4.5,"p1":1,"p0":94.5},{"d":"J","k":"5-6","p2":4.5,"p1":1,"p0":94.5},{"d":"J","k":"5-7","p2":3.5,"p1":2,"p0":94.5},{"d":"J","k":"5-8","p2":2,"p1":1,"p0":96},{"d":"J","k":"5-9","p2":2,"p1":1,"p0":91.5},{"d":"J","k":"5-10","p2":2,"p1":1,"p0":84},

{"d":"K","k":"1-1","p1":0.5,"p0":99.5},{"d":"K","k":"1-2","p1":0.5,"p0":99.5},{"d":"K","k":"1-3","p1":0.5,"p0":99.5},{"d":"K","k":"1-4","p1":0.5,"p0":99.5},{"d":"K","k":"1-5","p1":0.5,"p0":99.5},{"d":"K","k":"1-6","p1":2,"p0":98},{"d":"K","k":"1-7","p1":4.5,"p0":95.5},{"d":"K","k":"1-8","p1":7,"p0":91.5},{"d":"K","k":"1-9","p1":8.5,"p0":85.5},{"d":"K","k":"1-10","p1":10,"p0":78},
{"d":"K","k":"2-1","p1":2.5,"p0":97.5},{"d":"K","k":"2-2","p1":5,"p0":95},{"d":"K","k":"2-3","p1":7.5,"p0":92.5},{"d":"K","k":"2-4","p1":11.5,"p0":88.5},{"d":"K","k":"2-5","p1":14,"p0":86},{"d":"K","k":"2-6","p1":18,"p0":82},{"d":"K","k":"2-7","p1":20,"p0":79.5},{"d":"K","k":"2-8","p1":22.5,"p0":76.5},{"d":"K","k":"2-9","p1":24,"p0":70.5},{"d":"K","k":"2-10","p1":24,"p0":65},
{"d":"K","k":"3-1","p1":11.5,"p0":88.5},{"d":"K","k":"3-2","p1":20,"p0":80},{"d":"K","k":"3-3","p1":24,"p0":76},{"d":"K","k":"3-4","p1":27.5,"p0":68.5},{"d":"K","k":"3-5","p1":15,"p0":31},{"d":"K","k":"3-6","p0":5.5},{"d":"K","k":"3-7"},{"d":"K","k":"3-8"},{"d":"K","k":"3-9"},{"d":"K","k":"3-10"},
{"d":"K","k":"4-1","p1":10,"p0":90},{"d":"K","k":"4-2","p1":15,"p0":83},{"d":"K","k":"4-3","p1":15,"p0":50},{"d":"K","k":"4-4","p1":4,"p0":14},{"d":"K","k":"4-5"},{"d":"K","k":"4-6"},{"d":"K","k":"4-7"},{"d":"K","k":"4-8"},{"d":"K","k":"4-9"},{"d":"K","k":"4-10"},
{"d":"K","k":"5-1","p1":33,"p0":67},{"d":"K","k":"5-2","p1":57,"p0":43},{"d":"K","k":"5-3","p1":73,"p0":27},{"d":"K","k":"5-4","p1":83,"p0":17},{"d":"K","k":"5-5","p1":91.5,"p0":8.5},{"d":"K","k":"5-6","p1":98,"p0":2},{"d":"K","k":"5-7","p1":99,"p0":1},{"d":"K","k":"5-8","p1":98,"p0":1},{"d":"K","k":"5-9","p1":93,"p0":1.5},{"d":"K","k":"5-10","p1":86,"p0":1}
]
},
"data": {"name": "bars"},
"transform": [
{"lookup": "k", "from": {"data": {"name": "sv"}, "key": "k", "fields": ["c", "s", "Z", "Y"]}},
{"fold": ["p4", "p3", "p2", "p1", "p0", "Z", "Y"], "as": ["key", "v"]},
{"filter": "isValid(datum.v) && datum.v > 0"},
{"calculate": "(datum.key == 'Z' || datum.key == 'Y') ? datum.key : datum.d + datum.key", "as": "ck"},
{"lookup": "ck", "from": {"data": {"name": "cats"}, "key": "ck", "fields": ["l"]}},
{"calculate": "indexof(['Y','Z','p0','p1','p2','p3','p4'], datum.key)", "as": "o"}
],
"facet": {
"row": {"field": "d", "type": "nominal", "title": null,
 "header": {"labelExpr": "{'A':['\u2800','Dimension A : Prise en','charge médicale en ville      \u2800'],'B':['\u2800','Dimension B : Prise en','charge infirmière en ville     \u2800'],'C':['\u2800','Dimension C : Autre prise','en charge paramédicale en \u2800','ville'],'D':['\u2800','Dimension D : Prise en','charge pharmacologique     \u2800','des troubles cognitifs'],'E':['\u2800','Dimension E : Prise en','charge pharmacologique','par des antipsychotiques    \u2800'],'F':['\u2800','\u2800','Dimension F : Prise en','charge hospitalière','planifiée pour une MAMA  \u2800'],'G':['\u2800','\u2800','Dimension G :','Hospitalisation pour            \u2800','événement MAMA'],'H':['\u2800','\u2800','Dimension H : Autres soins\u2800','médicaux en ambulatoire'],'I':['\u2800','\u2800','Dimension I : Autres soins  \u2800','hospitaliers'],'J':['\u2800','\u2800','Dimension J : Evénements  \u2800','intercurrents'],'K':['\u2800','\u2800','Dimension K : Lieu de vie   \u2800']}[datum.value]",
  "labelAngle": 0, "labelOrient": "left", "labelAlign": "left", "labelBaseline": "bottom", "labelAnchor": "end", "labelFontSize": 20, "labelLineHeight": 26, "labelFont": "Lato", "labelColor": "#1a1a1a", "labelPadding": 13, "labelLimit": 400}},
"column": {"field": "c", "type": "nominal", "title": null,
 "header": {"labelFontSize": 20, "labelFont": "Lato", "labelColor": "#111111", "labelPadding": 14}}
},
"spacing": {"row": 1, "column": 19},
"spec": {
"width": 124, "height": 97,
"layer": [
{"mark": {"type": "bar"},
 "encoding": {
  "x": {"field": "s", "type": "ordinal", "sort": ["S1","S2","S3","S4","S5","S6","S7","S8","S9","S10"], "scale": {"paddingInner": 0.18, "paddingOuter": 0.1},
        "axis": {"title": null, "labelAngle": -90, "ticks": false, "labelFontSize": 10, "labelColor": "#777777", "labelFont": "Lato", "domainColor": "#bbbbbb", "labelPadding": 4}},
  "y": {"field": "v", "type": "quantitative", "stack": "normalize", "axis": null},
  "color": {"field": "l", "type": "nominal",
   "scale": {
    "domain": ["1.3 consult spé MASA","1.2 visite long complexe","1.1 consult MG","1.0 pas PEC méd ville","gap1",
     "2.3 AIS + AMI","2.2 AIS","2.1 AMI","2.0 pas PEC infirmier ville","gap2",
     "3.3 orthophoniste + kiné","3.2 orthophoniste","3.1 kiné","3.0 pas PEC autre para ville","gap3",
     "4.3 mémant + anticho","4.2 mémant","4.1 anticho","4.0 pas PEC pha cogni","gap4",
     "5.3 plusieurs antipsy","5.2 autre antipsy","5.1 risperidone","5.0 pas PEC pha neuropsy","gap5",
     "6.3 MA >24H DR-MCO/DP-PSY","6.2 MA HC-SSR","6.1 MA HP/<24H DR-MCO/DP-PSY","6.0 pas PEC hospit MA planif","gap6",
     "7.2 urg DP MA MCO/npsy","7.1 prog DP MA MCO/npsy","7.0 pas hospit évé MA","gap7","gap8",
     "8.2 autre spé ville","8.1 soins externes hospit","8.0 pas autre ambu","gap9","gap10",
     "9.4 non-MA/npsy >24h MCO/PSY","9.3 HC non-MA SSR","9.2 non-MA/npsy HP/<24h","9.1 séance non-radioth","9.0 pas autre hospit",
     "10.2 entr urg DP non-MA/npsy","10.1 passage aux urg","10.0 pas évé intercurrent","gap11","gap12",
     "11.1 EHPAD","11.0 hors EHPAD","gap13","gap14","gap15",
     "_Z décès","_Y autre censure"],
    "range": ["#c5b0d5","#ff9896","#2ca02c","#f2f2f2","#ffffff",
     "#9edae5","#dbdb8d","#c7c7c7","#f2f2f2","#ffffff",
     "#8c564b","#9467bd","#98df8a","#f2f2f2","#ffffff",
     "#bcbd22","#7f7f7f","#c49c94","#f2f2f2","#ffffff",
     "#17becf","#c49c94","#c5b0d5","#f2f2f2","#ffffff",
     "#7f7f7f","#c5b0d5","#2ca02c","#f2f2f2","#ffffff",
     "#17becf","#c49c94","#f2f2f2","#ffffff","#ffffff",
     "#9467bd","#98df8a","#f2f2f2","#ffffff","#ffffff",
     "#ffbb78","#c7c7c7","#e377c2","#8c564b","#f2f2f2",
     "#9edae5","#dbdb8d","#f2f2f2","#ffffff","#ffffff",
     "#ff9896","#f2f2f2","#ffffff","#ffffff","#ffffff",
     "#c00000","#ff0000"]},
   "legend": {"title": null, "labelExpr": "slice(datum.label, 0, 3) == 'gap' ? '' : datum.label"}},
  "order": {"field": "o", "type": "quantitative"}
 }},
{"transform": [{"aggregate": [{"op": "count", "as": "n"}], "groupby": ["c", "d"]}],
 "mark": {"type": "rule", "color": "#e8413c", "strokeWidth": 1, "opacity": 0.85},
 "encoding": {"y": {"datum": 0}}}
]
},
"config": {
"view": {"stroke": null},
"font": "Lato",
"legend": {"orient": "right", "symbolType": "square", "symbolSize": 50, "symbolStrokeWidth": 0, "symbolLimit": 100, "labelFontSize": 11.5, "labelFont": "Roboto", "labelColor": "#595959", "rowPadding": 6.7, "offset": 3, "padding": 11, "labelLimit": 220, "labelOffset": 4}
}
}
